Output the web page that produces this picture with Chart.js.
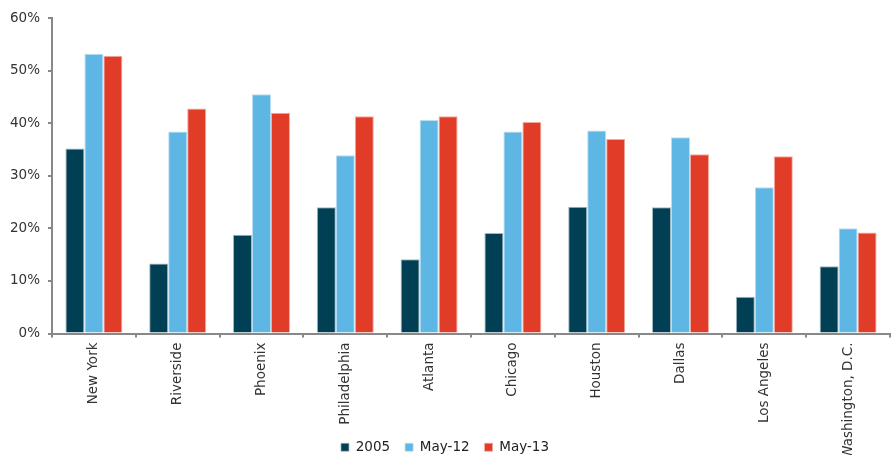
<!DOCTYPE html>
<html>
<head>
<meta charset="utf-8">
<script src="https://cdn.jsdelivr.net/npm/chart.js@4/dist/chart.umd.min.js"></script>
<style>
  html, body { margin: 0; padding: 0; background: #fff; }
  #wrap { width: 893px; height: 455px; }
</style>
</head>
<body>
<div id="wrap"><canvas id="grafico"></canvas></div>
<script>
var cidades = ['New York', 'Riverside', 'Phoenix', 'Philadelphia', 'Atlanta', 'Chicago', 'Houston', 'Dallas', 'Los Angeles', 'Washington, D.C.'];
var valores2005 = [35.2, 13.3, 18.8, 24.0, 14.1, 19.1, 24.1, 24.0, 7.0, 12.8];
var valoresMai12 = [53.2, 38.4, 45.5, 33.9, 40.6, 38.4, 38.6, 37.3, 27.8, 20.0];
var valoresMai13 = [52.8, 42.8, 42.0, 41.3, 41.3, 40.2, 37.0, 34.1, 33.7, 19.2];
var rotulosY = [0, 10, 20, 30, 40, 50, 60];

Chart.defaults.font.family = '"DejaVu Sans", sans-serif';
Chart.defaults.font.size = 13.5;
Chart.defaults.color = '#333';

// deixa os rotulos do eixo x passarem ate o fim do canvas (como no original, cortado embaixo)
var recorteRotulos = {
	id: 'recorteRotulos',
	afterLayout: function(chart) {
		chart.scales.x.bottom = chart.height;
	}
};

var ctx = document.getElementById('grafico').getContext('2d');
var grafico = new Chart(ctx, {
	type: 'bar',
	data: {
		labels: cidades,
		datasets: [{
			label: '2005',
			data: valores2005,
			backgroundColor: '#003f54',
			borderColor: '#9fb8c0',
			borderWidth: { top: 1, left: 1, right: 1, bottom: 0 }
		}, {
			label: 'May-12',
			data: valoresMai12,
			backgroundColor: '#5eb6e4',
			borderColor: '#b9def2',
			borderWidth: { top: 1, left: 1, right: 1, bottom: 0 }
		}, {
			label: 'May-13',
			data: valoresMai13,
			backgroundColor: '#e03c28',
			borderColor: '#f2aaa0',
			borderWidth: { top: 1, left: 1, right: 1, bottom: 0 }
		}]
	},
	plugins: [recorteRotulos],
	options: {
		responsive: true,
		maintainAspectRatio: false,
		animation: false,
		layout: { padding: { top: 18, right: 3, left: 0, bottom: -9 } },
		datasets: { bar: { categoryPercentage: 0.68, barPercentage: 1.0 } },
		plugins: {
			legend: {
				position: 'bottom',
				labels: { boxWidth: 8, boxHeight: 8, padding: 15, color: '#222' }
			},
			tooltip: { enabled: false }
		},
		scales: {
			x: {
				grid: { display: true, drawOnChartArea: false, offset: true, color: '#888', tickLength: 4, lineWidth: 2 },
				border: { color: '#888', width: 2 },
				ticks: { autoSkip: false, minRotation: 90, maxRotation: 90, padding: 5 },
				afterFit: function(scale) { scale.height = 92; }
			},
			y: {
				min: 0,
				max: rotulosY[rotulosY.length - 1],
				grid: { display: true, drawOnChartArea: false, color: '#888', tickLength: 4, lineWidth: 2 },
				border: { color: '#888', width: 2 },
				ticks: {
					stepSize: 10,
					padding: 8,
					callback: function(v) { return rotulosY.indexOf(v) >= 0 ? v + '%' : ''; }
				},
				afterFit: function(scale) { scale.width = 52; }
			}
		}
	}
});
</script>
</body>
</html>
